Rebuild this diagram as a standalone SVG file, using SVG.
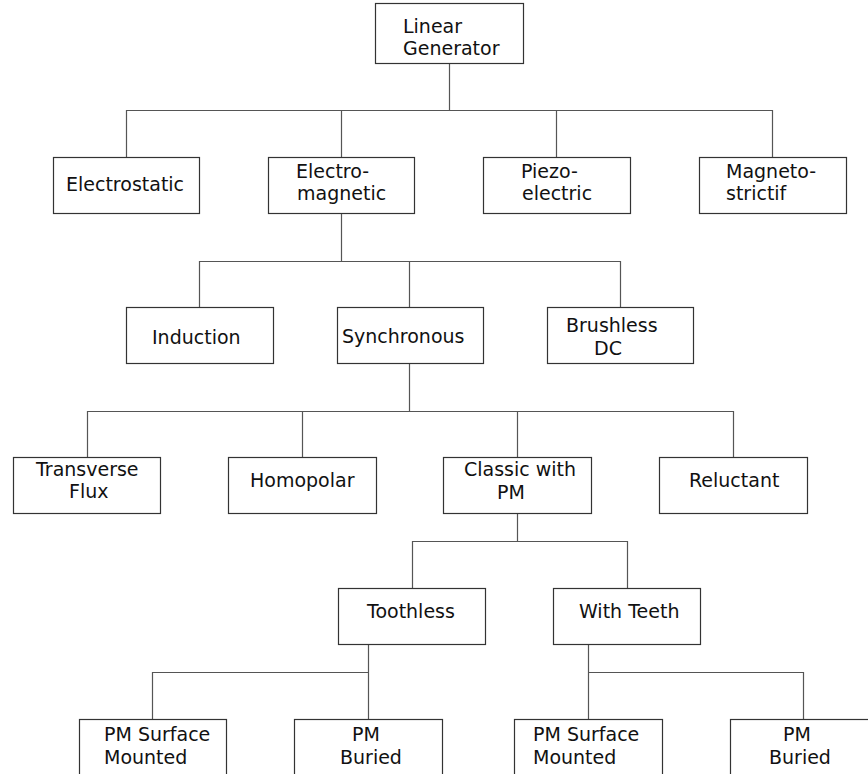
<svg xmlns="http://www.w3.org/2000/svg" width="868" height="774" viewBox="0 0 868 774">
<style>
  .box { fill: #ffffff; stroke: #333333; stroke-width: 1.2; }
  .conn { fill: none; stroke: #555555; stroke-width: 1.2; }
  text { font-family: "DejaVu Sans", Verdana, sans-serif; font-size: 19px; fill: #111111; }
</style>
<rect width="868" height="774" fill="#ffffff"/>
<g id="connectors">
  <path class="conn" d="M449.5 63 V110.5 M126.5 157 V110.5 H772.5 V157 M341.5 110.5 V157 M556.5 110.5 V157"/>
  <path class="conn" d="M341.5 213 V261.5 M199.5 307 V261.5 H620.5 V307 M409.5 261.5 V307"/>
  <path class="conn" d="M409.5 363 V411.5 M87.5 457 V411.5 H733.5 V457 M302.5 411.5 V457 M517.5 411.5 V457"/>
  <path class="conn" d="M517.5 513 V541.5 M412.5 588 V541.5 H627.5 V588"/>
  <path class="conn" d="M368.5 644 V719 M152.5 719 V672.5 H368.5"/>
  <path class="conn" d="M588.5 644 V719 M803.5 719 V672.5 H588.5"/>
</g>
<g id="linear-generator">
  <rect class="box" x="375.5" y="3.5" width="148" height="60"/>
  <text x="403" y="33">Linear</text>
  <text x="403" y="55">Generator</text>
</g>
<g id="electrostatic">
  <rect class="box" x="53.5" y="157.5" width="146" height="56"/>
  <text x="66" y="191">Electrostatic</text>
</g>
<g id="electromagnetic">
  <rect class="box" x="268.5" y="157.5" width="146" height="56"/>
  <text x="296" y="178">Electro-</text>
  <text x="297" y="200">magnetic</text>
</g>
<g id="piezoelectric">
  <rect class="box" x="483.5" y="157.5" width="147" height="56"/>
  <text x="521" y="178">Piezo-</text>
  <text x="522" y="200">electric</text>
</g>
<g id="magnetostrictif">
  <rect class="box" x="699.5" y="157.5" width="147" height="56"/>
  <text x="726" y="178">Magneto-</text>
  <text x="726" y="200">strictif</text>
</g>
<g id="induction">
  <rect class="box" x="126.5" y="307.5" width="147" height="56"/>
  <text x="152" y="344">Induction</text>
</g>
<g id="synchronous">
  <rect class="box" x="337.5" y="307.5" width="146" height="56"/>
  <text x="342" y="343">Synchronous</text>
</g>
<g id="brushless-dc">
  <rect class="box" x="547.5" y="307.5" width="146" height="56"/>
  <text x="566" y="332">Brushless</text>
  <text x="594" y="355">DC</text>
</g>
<g id="transverse-flux">
  <rect class="box" x="13.5" y="457.5" width="147" height="56"/>
  <text x="36" y="476">Transverse</text>
  <text x="69" y="498">Flux</text>
</g>
<g id="homopolar">
  <rect class="box" x="228.5" y="457.5" width="148" height="56"/>
  <text x="250" y="487">Homopolar</text>
</g>
<g id="classic-with-pm">
  <rect class="box" x="443.5" y="457.5" width="148" height="56"/>
  <text x="464" y="476">Classic with</text>
  <text x="497" y="499">PM</text>
</g>
<g id="reluctant">
  <rect class="box" x="659.5" y="457.5" width="148" height="56"/>
  <text x="689" y="487">Reluctant</text>
</g>
<g id="toothless">
  <rect class="box" x="338.5" y="588.5" width="147" height="56"/>
  <text x="367" y="618">Toothless</text>
</g>
<g id="with-teeth">
  <rect class="box" x="553.5" y="588.5" width="147" height="56"/>
  <text x="579" y="618">With Teeth</text>
</g>
<g id="pm-surface-mounted-1">
  <rect class="box" x="79.5" y="719.5" width="147" height="80"/>
  <text x="104" y="741">PM Surface</text>
  <text x="104" y="764">Mounted</text>
</g>
<g id="pm-buried-1">
  <rect class="box" x="294.5" y="719.5" width="148" height="80"/>
  <text x="352" y="741">PM</text>
  <text x="340" y="764">Buried</text>
</g>
<g id="pm-surface-mounted-2">
  <rect class="box" x="514.5" y="719.5" width="148" height="80"/>
  <text x="533" y="741">PM Surface</text>
  <text x="533" y="764">Mounted</text>
</g>
<g id="pm-buried-2">
  <rect class="box" x="730.5" y="719.5" width="148" height="80"/>
  <text x="783" y="741">PM</text>
  <text x="769" y="764">Buried</text>
</g>
</svg>
